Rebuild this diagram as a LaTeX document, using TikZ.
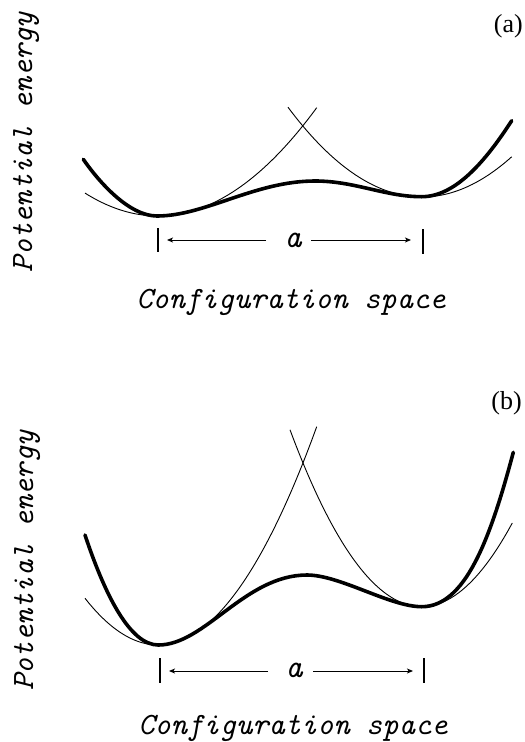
\documentclass[tikz,border=0pt]{standalone}
\usepackage{fontspec}
\setmainfont{Liberation Serif}
\usetikzlibrary{arrows.meta}
\begin{document}
\begin{tikzpicture}[x=1pt,y=-1pt,
  thinc/.style={line width=0.9pt},
  thickc/.style={line width=3.6pt, line cap=round, line join=round},
  dimtick/.style={line width=1.2pt},
  dimarrow/.style={line width=0.9pt, -{Stealth[length=6pt,width=5pt,inset=1.5pt]}},
  axislabel/.style={font=\fontsize{31}{33}\selectfont\ttfamily\itshape, inner sep=0pt},
  alabel/.style={font=\fontsize{33}{35}\selectfont\ttfamily\itshape, inner sep=0pt},
  panellabel/.style={font=\fontsize{26}{28}\selectfont, inner sep=0pt},
]
\useasboundingbox[fill=white] (0,0) rectangle (525,742);

% ---------------- panel (a) ----------------
\draw[thinc] plot[domain=85:316.7, samples=80] (\x, {216-43*((\x-158)/100)^2});
\draw[thinc] plot[domain=288:511.7, samples=80] (\x, {197-50*((\x-422)/100)^2});
\draw[thickc] (83.3,159.3) .. controls (99,182) and (129,216) .. (157,216)
  .. controls (205,216) and (255,181) .. (315,181)
  .. controls (355,181) and (385,196.7) .. (421.7,196.7)
  .. controls (455,196.7) and (485,162) .. (511.7,120.7);

\coordinate (aTL1) at (158,228); \coordinate (aTL2) at (158,252);
\coordinate (aTR1) at (423,229); \coordinate (aTR2) at (423,254);
\draw[dimtick] (aTL1) -- (aTL2);
\draw[dimtick] (aTR1) -- (aTR2);
\node[alabel] (aA) at (293,240) {a};
\coordinate (aL) at (167,240); \coordinate (aLs) at (266,240);
\coordinate (aR) at (411,240); \coordinate (aRs) at (311,240);
\draw[dimarrow] (aLs) -- (aL);
\draw[dimarrow] (aRs) -- (aR);

\node[axislabel, anchor=base] (aX) at (291,308) {Configuration space};
\node[rotate=90, axislabel, anchor=base] (aY) at (32,142) {Potential energy};
\node[panellabel, anchor=east] (aP) at (523,26) {(a)};

% ---------------- panel (b) ----------------
\draw[thinc] plot[domain=85:316.7, samples=80] (\x, {645-87*((\x-158.3)/100)^2});
\draw[thinc] plot[domain=290:512.3, samples=80] (\x, {606.7-102*((\x-421.7)/100)^2});
\draw[thickc] (85,535) .. controls (105,595) and (130,645) .. (158.3,645)
  .. controls (205,645) and (245,575) .. (307,575)
  .. controls (340,575) and (390,606.7) .. (421.7,606.7)
  .. controls (465,606.7) and (490,540) .. (513.3,452.3);

\coordinate (bTL1) at (160,658); \coordinate (bTL2) at (160,683);
\coordinate (bTR1) at (424,658); \coordinate (bTR2) at (424,683);
\draw[dimtick] (bTL1) -- (bTL2);
\draw[dimtick] (bTR1) -- (bTR2);
\node[alabel] (bA) at (294,670.5) {a};
\coordinate (bL) at (169,671); \coordinate (bLs) at (268,671);
\coordinate (bR) at (413,671); \coordinate (bRs) at (313,671);
\draw[dimarrow] (bLs) -- (bL);
\draw[dimarrow] (bRs) -- (bR);

\node[axislabel, anchor=base] (bX) at (293,734) {Configuration space};
\node[rotate=90, axislabel, anchor=base] (bY) at (33,560.5) {Potential energy};
\node[panellabel, anchor=east] (bP) at (522,403) {(b)};
\end{tikzpicture}
\end{document}
